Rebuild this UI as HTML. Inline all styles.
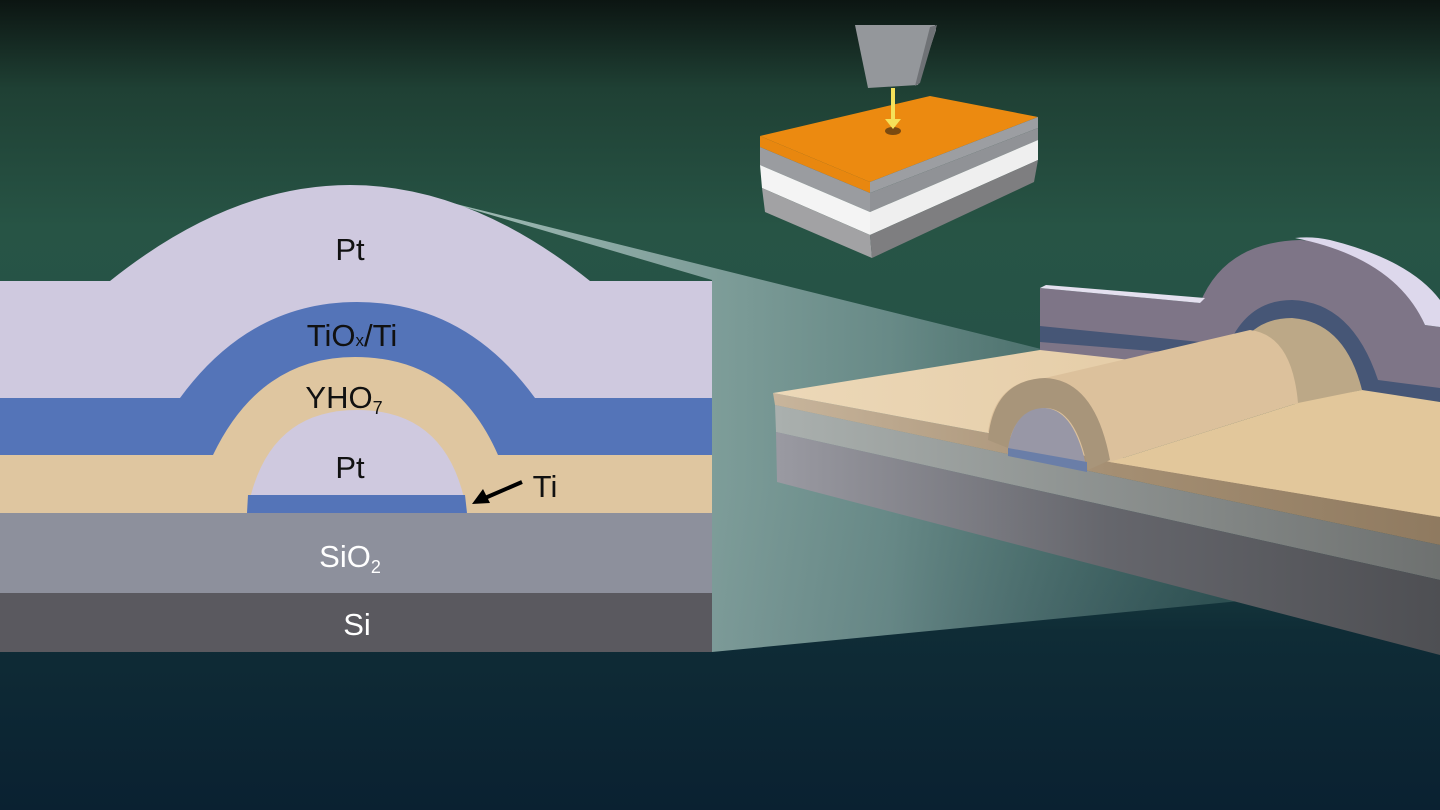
<!DOCTYPE html>
<html><head><meta charset="utf-8"><style>html,body{margin:0;padding:0;width:1440px;height:810px;overflow:hidden;background:#0b2432}svg{display:block}text{font-family:"Liberation Sans","DejaVu Sans",sans-serif}</style></head><body>
<svg width="1440" height="810" viewBox="0 0 1440 810" xmlns="http://www.w3.org/2000/svg">
<defs>
<linearGradient id="bg" x1="0" y1="0" x2="0" y2="1">
<stop offset="0" stop-color="#0c1512"/><stop offset="0.11" stop-color="#1f4034"/><stop offset="0.28" stop-color="#275445"/><stop offset="0.6" stop-color="#24504a"/><stop offset="0.78" stop-color="#0f2c36"/><stop offset="1" stop-color="#0a2131"/>
</linearGradient>
<linearGradient id="beam" x1="0" y1="0" x2="1" y2="0">
<stop offset="0" stop-color="#a8c2bc" stop-opacity="0.95"/><stop offset="0.45" stop-color="#6f908e" stop-opacity="0.9"/><stop offset="1" stop-color="#2a4f4e" stop-opacity="0.3"/>
</linearGradient>
<linearGradient id="slabTan" x1="0" y1="0" x2="1" y2="0"><stop offset="0" stop-color="#c8b59c"/><stop offset="0.5" stop-color="#a58f73"/><stop offset="1" stop-color="#8f7a60"/></linearGradient>
<linearGradient id="slabSiO" x1="0" y1="0" x2="1" y2="0"><stop offset="0" stop-color="#aab0ae"/><stop offset="1" stop-color="#6e7170"/></linearGradient>
<linearGradient id="slabSi" x1="0" y1="0" x2="1" y2="0"><stop offset="0" stop-color="#9a9aa2"/><stop offset="0.5" stop-color="#65666c"/><stop offset="1" stop-color="#4e4f53"/></linearGradient>
<linearGradient id="topTan" x1="0" y1="0" x2="1" y2="0"><stop offset="0" stop-color="#ecd8b8"/><stop offset="1" stop-color="#e0c49a"/></linearGradient>
</defs>
<rect width="1440" height="810" fill="url(#bg)"/>
<polygon points="440,200 1045,350 1440,520 1440,600 1250,600 712,652 712,280" fill="url(#beam)"/>

<!-- back Pt wall -->
<path d="M1040,288 L1200,303 Q1225,242 1300,240 Q1390,245 1425,325 L1440,327 L1440,400 L1040,352 Z" fill="#7e7587"/>
<polygon points="1040,288 1046,285 1205,298 1200,303" fill="#e4e0ef"/>
<path d="M1295,238 Q1312,236 1330,240 Q1410,260 1440,300 L1440,327 L1425,325 Q1395,258 1295,238 Z" fill="#ddd8ec"/>
<polygon points="1040,326 1240,346 1240,358 1040,342" fill="#465676"/>
<path d="M1228,346 Q1248,300 1292,300 Q1352,302 1378,380 L1440,388 L1440,402 L1230,372 Z" fill="#465676"/>
<path d="M1240,345 Q1258,318 1292,318 Q1345,322 1362,390 L1300,404 L1240,404 Z" fill="#bca887"/>
<!-- slab layers -->
<polygon points="775,405 1440,545 1440,580 776,432" fill="url(#slabSiO)"/>
<polygon points="776,432 1440,580 1440,655 777,482" fill="url(#slabSi)"/>
<polygon points="773,393 1440,517 1440,545 775,405" fill="url(#slabTan)"/>
<!-- top surface -->
<polygon points="773,393 1040,350 1240,372 1240,404 1110,462 1440,517" fill="url(#topTan)"/>
<polygon points="1110,462 1298,403 1362,390 1440,402 1440,517" fill="#e2c79b"/>
<!-- ridge -->
<path d="M988,432 Q995,380 1045,378 L1250,330 Q1292,335 1298,403 L1110,462 Z" fill="#dcc19c"/>
<!-- front arch -->
<path d="M988,440 Q993,380 1045,378 Q1095,380 1110,460 L1088,470 Q1076,408 1045,408 Q1014,410 1008,448 Z" fill="#a8957a"/>
<path d="M1008,448 Q1015,408 1045,408 Q1075,410 1087,470 Z" fill="#9897a6"/>
<polygon points="1008,448 1087,462 1087,472 1008,456" fill="#6a7ea8"/>

<!-- small stack -->
<polygon points="760,136 930,96 1038,117 870,182" fill="#ec8a10"/>
<polygon points="760,136 870,182 870,193 760,147" fill="#e8870f"/>
<polygon points="870,182 1038,117 1038,128 870,193" fill="#9c9ea2"/>
<polygon points="760,147 870,193 870,212 760,165" fill="#9a9ca0"/>
<polygon points="870,193 1038,128 1038,140 870,212" fill="#909296"/>
<polygon points="760,165 870,212 870,235 762,188" fill="#f4f4f4"/>
<polygon points="870,212 1038,140 1038,160 870,235" fill="#efefef"/>
<polygon points="762,188 870,235 872,258 765,212" fill="#a2a2a4"/>
<polygon points="870,235 1038,160 1034,182 872,258" fill="#7e7e80"/>
<ellipse cx="893" cy="131" rx="8" ry="4" fill="#7a4a10"/>
<polygon points="855,25 935,25 936,30 918,85 868,88" fill="#94979b"/>
<polygon points="930,27 937,25 920,83 915,86" fill="#6f7276"/>
<rect x="891" y="88" width="4" height="32" fill="#f5e15a"/>
<polygon points="885,119 901,119 893,129" fill="#f5e15a"/>

<!-- cross-section -->
<path d="M0,281 L110,281 Q230,185 350,185 Q470,185 590,281 L712,281 L712,400 L0,400 Z" fill="#cfc9df"/>
<path d="M0,398 L180,398 Q250,302 357,302 Q465,302 535,398 L712,398 L712,456 L0,456 Z" fill="#5474b8"/>
<path d="M0,455 L213,455 Q260,357 355,357 Q455,357 498,455 L712,455 L712,514 L0,514 Z" fill="#dfc6a0"/>
<path d="M247,513 Q265,410 357,410 Q450,410 467,513 Z" fill="#cfc9df"/>
<path d="M248,495 L465,495 L467,513 L247,513 Z" fill="#5474b8"/>
<rect x="0" y="513" width="712" height="81" fill="#8d909c"/>
<rect x="0" y="593" width="712" height="59" fill="#5a595f"/>
<g font-size="31" fill="#111" text-anchor="middle">
<text x="350" y="260">Pt</text>
<text x="352" y="346">TiO<tspan font-size="17">x</tspan>/Ti</text>
<text x="344" y="408">YHO<tspan font-size="18" dy="6">7</tspan></text>
<text x="350" y="478">Pt</text>
<text x="545" y="497">Ti</text>
</g>
<line x1="522" y1="482" x2="485" y2="498" stroke="#000" stroke-width="4"/>
<polygon points="472,504 483,489 490,503" fill="#000"/>
<g font-size="31" fill="#fff" text-anchor="middle">
<text x="350" y="567">SiO<tspan font-size="18" dy="6">2</tspan></text>
<text x="357" y="635">Si</text>
</g>
</svg>
</body></html>
